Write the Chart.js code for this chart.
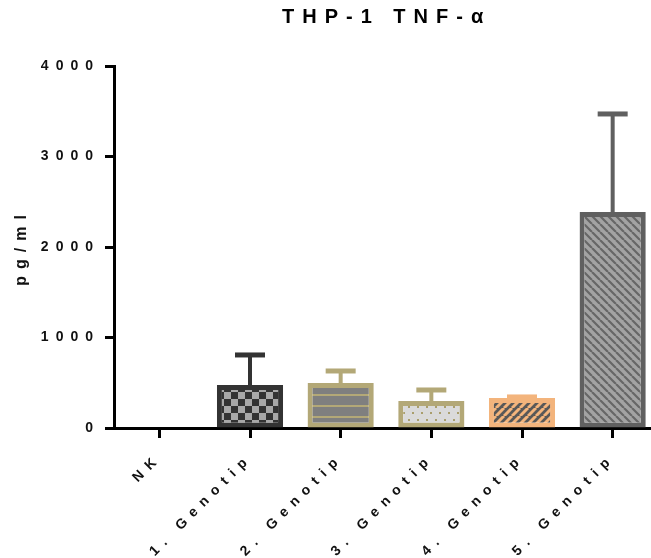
<!DOCTYPE html>
<html>
<head>
<meta charset="utf-8">
<script src="https://cdn.jsdelivr.net/npm/chart.js@4"></script>
<style>
  html, body { margin: 0; padding: 0; background: #fff; overflow: hidden; }
  canvas { display: block; }
</style>
</head>
<body>
<canvas id="chart" width="658" height="558"></canvas>
<script>
const labels = ['NK', '1. Genotip', '2. Genotip', '3. Genotip', '4. Genotip', '5. Genotip'];
const means = [0, 475, 497, 298, 331, 2387];
const errors = [0, 332, 133, 122, 12, 1083];
const yTicks = [0, 1000, 2000, 3000, 4000];
const borders = ['#333333', '#333333', '#b3a877', '#b3a877', '#f3b47c', '#606060'];

const FONT = '"Liberation Sans", Arial, sans-serif';

function tile(w, h, draw) {
  const c = document.createElement('canvas');
  c.width = w; c.height = h;
  draw(c.getContext('2d'), w, h);
  return document.createElement('canvas').getContext('2d').createPattern(c, 'repeat');
}

function stripes(bg, fg, size, lw, dir) {
  return tile(size, size, (g, s) => {
    g.fillStyle = bg; g.fillRect(0, 0, s, s);
    g.strokeStyle = fg; g.lineWidth = lw;
    g.beginPath();
    for (let k = -1; k <= 1; k++) {
      if (dir > 0) { g.moveTo(k * s, s); g.lineTo(k * s + s, 0); }
      else { g.moveTo(k * s, 0); g.lineTo(k * s + s, s); }
    }
    g.stroke();
  });
}

const fills = [
  '#999999',
  tile(14, 14, (g) => {
    g.fillStyle = '#333333'; g.fillRect(0, 0, 14, 14);
    g.fillStyle = '#a8a8a8'; g.fillRect(0, 0, 7, 7); g.fillRect(7, 7, 7, 7);
  }),
  tile(10, 11, (g) => {
    g.fillStyle = '#7f7f7f'; g.fillRect(0, 0, 10, 11);
    g.fillStyle = '#b3a877'; g.fillRect(0, 9, 10, 2);
  }),
  tile(18, 13, (g) => {
    g.fillStyle = '#dadada'; g.fillRect(0, 0, 18, 13);
    g.fillStyle = '#a99e6c';
    g.fillRect(3, 3, 2, 2); g.fillRect(12, 3, 2, 2);
    g.fillRect(7, 9, 2, 2); g.fillRect(16, 9, 2, 2);
  }),
  stripes('#585858', '#f3b47c', 8, 3, 1),
  stripes('#a3a3a3', '#676767', 8, 2.2, -1)
];

const letterSpacing = {
  id: 'letterSpacing',
  beforeLayout(chart) { chart.ctx.letterSpacing = '7px'; },
  beforeDraw(chart) { chart.ctx.letterSpacing = '7px'; }
};

const errorBars = {
  id: 'errorBars',
  afterDatasetsDraw(chart) {
    const ctx = chart.ctx;
    const y = chart.scales.y;
    const meta = chart.getDatasetMeta(0);
    ctx.save();
    meta.data.forEach((bar, i) => {
      if (!errors[i]) return;
      const top = y.getPixelForValue(means[i]);
      const end = y.getPixelForValue(means[i] + errors[i]);
      ctx.strokeStyle = borders[i];
      ctx.lineWidth = 4;
      ctx.beginPath();
      ctx.moveTo(bar.x, top + 2);
      ctx.lineTo(bar.x, end);
      ctx.stroke();
      ctx.lineWidth = 5;
      ctx.beginPath();
      ctx.moveTo(bar.x - 15, end);
      ctx.lineTo(bar.x + 15, end);
      ctx.stroke();
    });
    ctx.restore();
  }
};

const chartTitle = {
  id: 'chartTitle',
  afterDraw(chart) {
    const ctx = chart.ctx;
    ctx.save();
    ctx.letterSpacing = '8px';
    ctx.font = 'bold 20px ' + FONT;
    ctx.fillStyle = '#000';
    ctx.textAlign = 'left';
    ctx.textBaseline = 'alphabetic';
    ctx.fillText('THP-1 TNF-α', 282, 23);
    ctx.restore();
  }
};

new Chart(document.getElementById('chart'), {
  type: 'bar',
  data: {
    labels: labels,
    datasets: [{
      data: means,
      backgroundColor: fills,
      borderColor: borders,
      borderWidth: 5,
      borderSkipped: false,
      barPercentage: 0.73,
      categoryPercentage: 1
    }]
  },
  options: {
    responsive: false,
    devicePixelRatio: 1,
    animation: false,
    layout: { padding: { top: 66, left: 0, right: 0, bottom: 0 } },
    plugins: { legend: { display: false }, tooltip: { enabled: false } },
    scales: {
      x: {
        afterFit(scale) { scale.height = 130; },
        grid: { display: true, drawOnChartArea: false, offset: false, tickLength: 10, tickWidth: 3, tickColor: '#000' },
        border: { display: true, color: '#000', width: 3 },
        ticks: {
          autoSkip: false, maxRotation: 45, minRotation: 45, padding: 12,
          color: '#111', font: { family: FONT, size: 14, weight: 'bold' }
        }
      },
      y: {
        min: 0, max: 4000,
        afterFit(scale) { scale.width = 114; },
        afterBuildTicks(scale) { scale.ticks = yTicks.map(v => ({ value: v })); },
        grid: { display: true, drawOnChartArea: false, tickLength: 9, tickWidth: 3, tickColor: '#000' },
        border: { display: true, color: '#000', width: 3 },
        ticks: {
          padding: 5,
          callback: (v) => String(v),
          color: '#111', font: { family: FONT, size: 14, weight: 'bold' }
        },
        title: {
          display: true, text: 'pg/ml', color: '#111',
          font: { family: FONT, size: 16, weight: 'bold' },
          padding: { top: 12, bottom: 0 }
        }
      }
    }
  },
  plugins: [letterSpacing, errorBars, chartTitle]
});
</script>
</body>
</html>
